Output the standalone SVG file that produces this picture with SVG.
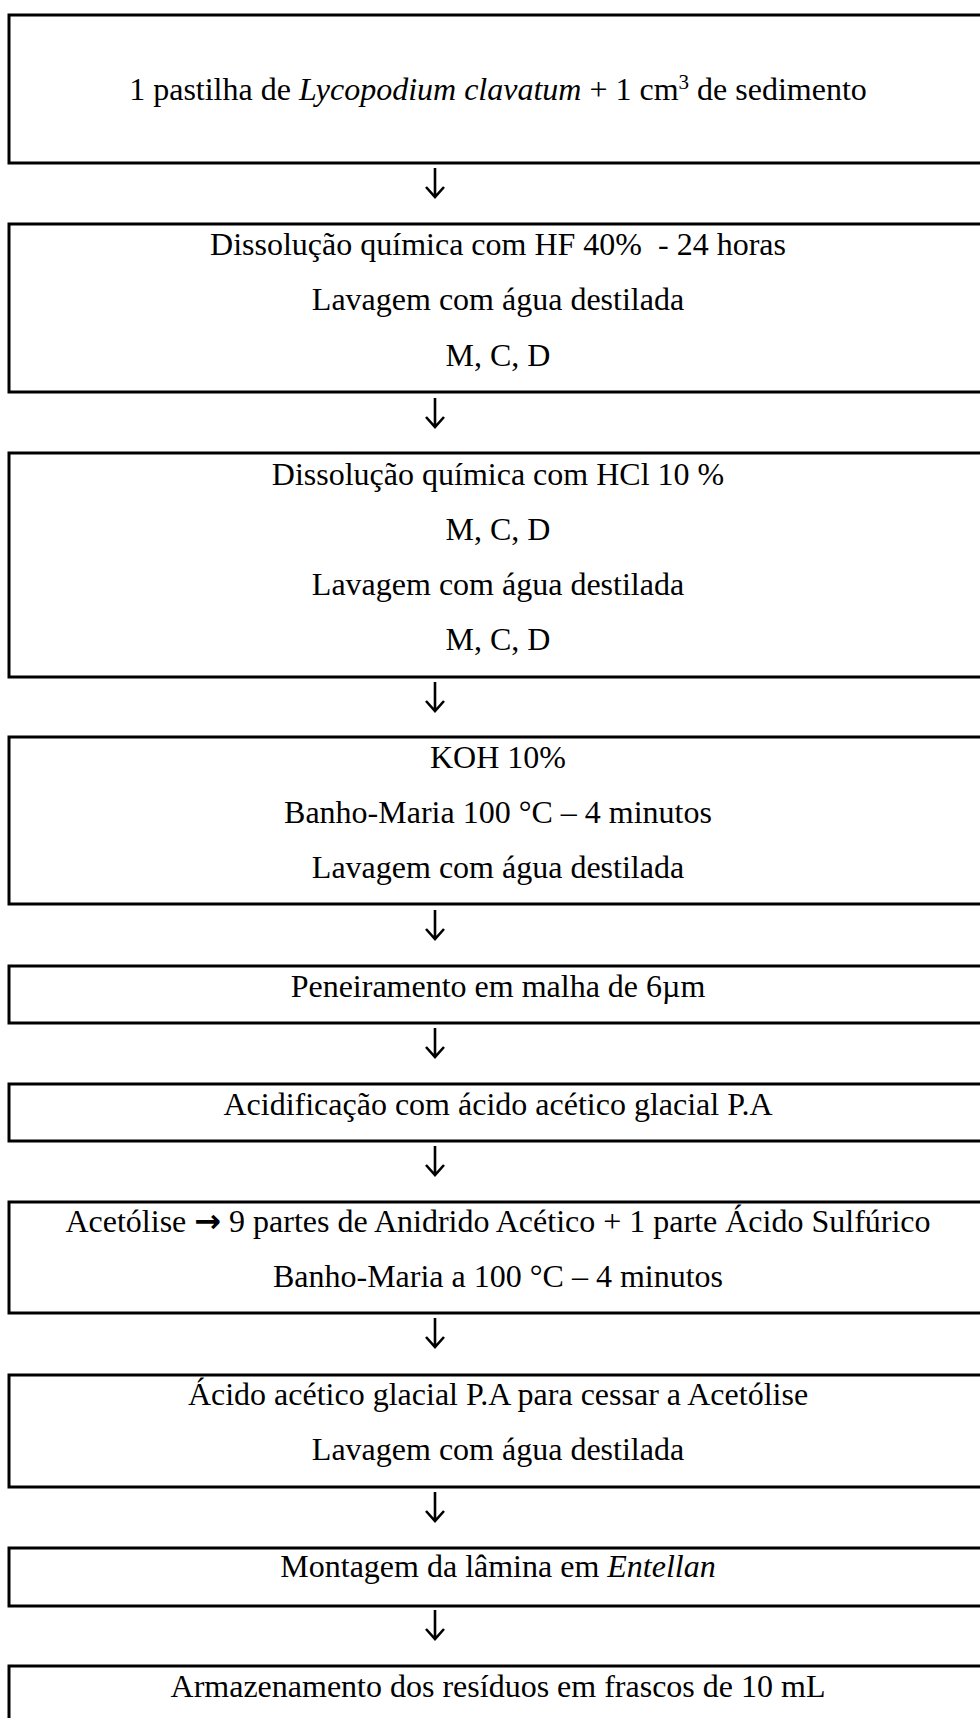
<svg xmlns="http://www.w3.org/2000/svg" width="980" height="1718" viewBox="0 0 980 1718">
<style>
.box{fill:#fff;stroke:#000;stroke-width:3}
.t{font-family:"Liberation Serif","Times New Roman",serif;font-size:32px;fill:#000;text-anchor:middle}
.c{fill:none;stroke:#000;stroke-width:2.6}
</style>
<rect width="980" height="1718" fill="#fff"/>
<g id="connectors">
<path class="c" d="M435 168V197M426 187L435 197L444 187"/>
<path class="c" d="M435 398V427M426 417L435 427L444 417"/>
<path class="c" d="M435 682V711M426 701L435 711L444 701"/>
<path class="c" d="M435 910V939M426 929L435 939L444 929"/>
<path class="c" d="M435 1028V1057M426 1047L435 1057L444 1047"/>
<path class="c" d="M435 1146V1175M426 1165L435 1175L444 1165"/>
<path class="c" d="M435 1318V1347M426 1337L435 1347L444 1337"/>
<path class="c" d="M435 1492V1521M426 1511L435 1521L444 1511"/>
<path class="c" d="M435 1610V1639M426 1629L435 1639L444 1629"/>
</g>
<g id="n1">
<rect class="box" x="9" y="15" width="1000" height="148"/>
<text class="t" x="498" y="100">1 pastilha de <tspan font-style="italic">Lycopodium clavatum</tspan> + 1 cm<tspan font-size="21" dy="-11">3</tspan><tspan dy="11"> de sedimento</tspan></text>
</g>
<g id="n2">
<rect class="box" x="9" y="224" width="1000" height="168"/>
<text class="t" x="498" y="255">Dissolução química com HF 40% &#160;- 24 horas</text>
<text class="t" x="498" y="310">Lavagem com água destilada</text>
<text class="t" x="498" y="366">M, C, D</text>
</g>
<g id="n3">
<rect class="box" x="9" y="453" width="1000" height="224"/>
<text class="t" x="498" y="485">Dissolução química com HCl 10 %</text>
<text class="t" x="498" y="540">M, C, D</text>
<text class="t" x="498" y="595">Lavagem com água destilada</text>
<text class="t" x="498" y="650">M, C, D</text>
</g>
<g id="n4">
<rect class="box" x="9" y="737" width="1000" height="167"/>
<text class="t" x="498" y="768">KOH 10%</text>
<text class="t" x="498" y="823">Banho-Maria 100 °C – 4 minutos</text>
<text class="t" x="498" y="878">Lavagem com água destilada</text>
</g>
<g id="n5">
<rect class="box" x="9" y="966" width="1000" height="57"/>
<text class="t" x="498" y="997">Peneiramento em malha de 6µm</text>
</g>
<g id="n6">
<rect class="box" x="9" y="1084" width="1000" height="57"/>
<text class="t" x="498" y="1115">Acidificação com ácido acético glacial P.A</text>
</g>
<g id="n7">
<rect class="box" x="9" y="1202" width="1000" height="111"/>
<text class="t" x="498" y="1232">Acetólise <tspan font-family="'DejaVu Sans',sans-serif" font-weight="bold" font-size="32">→</tspan> 9 partes de Anidrido Acético + 1 parte Ácido Sulfúrico</text>
<text class="t" x="498" y="1287">Banho-Maria a 100 °C – 4 minutos</text>
</g>
<g id="n8">
<rect class="box" x="9" y="1375" width="1000" height="112"/>
<text class="t" x="498" y="1405">Ácido acético glacial P.A para cessar a Acetólise</text>
<text class="t" x="498" y="1460">Lavagem com água destilada</text>
</g>
<g id="n9">
<rect class="box" x="9" y="1548" width="1000" height="58"/>
<text class="t" x="498" y="1577">Montagem da lâmina em <tspan font-style="italic">Entellan</tspan></text>
</g>
<g id="n10">
<rect class="box" x="9" y="1666" width="1000" height="80"/>
<text class="t" x="498" y="1697">Armazenamento dos resíduos em frascos de 10 mL</text>
</g>
</svg>
